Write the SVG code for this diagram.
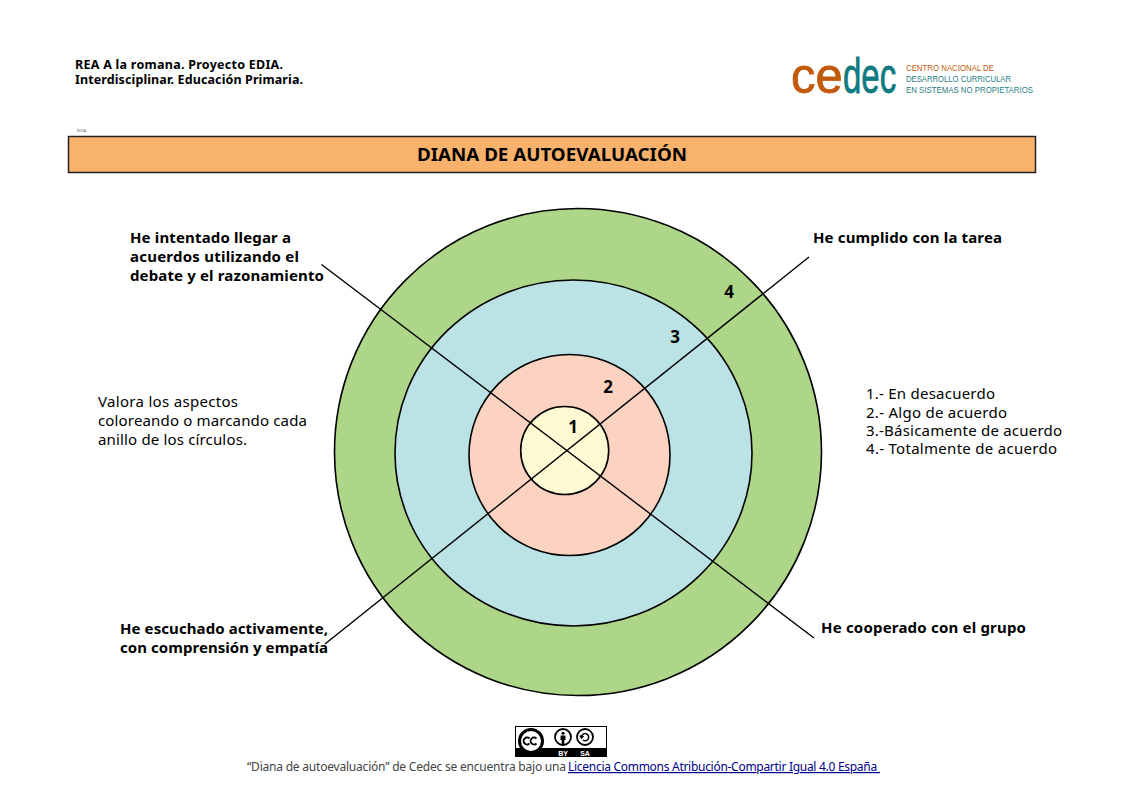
<svg xmlns="http://www.w3.org/2000/svg" width="1123" height="794" viewBox="0 0 1123 794">
<style>
text{font-family:"Noto Sans","Open Sans","Liberation Sans",sans-serif;fill:#000}
.b{font-weight:700;font-size:15px}
.r{font-size:15px}
.h{font-weight:700;font-size:12.5px}
.n{font-weight:700;font-size:17px}
.c{stroke:#000;stroke-width:1.6}
.l{stroke:#000;stroke-width:1.4;fill:none}
.lg{font-family:"Liberation Sans",sans-serif;font-size:8.500px}
</style>
<rect width="1123" height="794" fill="#fff"/>
<g id="header">
<text class="h" x="75" y="69" textLength="208">REA A la romana. Proyecto EDIA.</text>
<text class="h" x="75" y="84" textLength="228">Interdisciplinar. Educación Primaria.</text>
<text x="77" y="132" font-size="4" style="fill:#666">EDIA</text>
</g>
<g id="logo">
<text transform="translate(791,93) scale(.98,1)" font-size="50" style="font-family:'Liberation Sans',sans-serif;fill:#c25a0e;stroke:#c25a0e;stroke-width:.8">ce</text>
<text transform="translate(843,93) scale(.66,1)" font-size="50" style="font-family:'Liberation Sans',sans-serif;fill:#0f7b80;stroke:#0f7b80;stroke-width:.8">dec</text>
<text class="lg" x="906" y="71" style="fill:#c25a0e;font-family:'Liberation Sans',sans-serif" textLength="88" lengthAdjust="spacingAndGlyphs">CENTRO NACIONAL DE</text>
<text class="lg" x="906" y="82" style="fill:#1f7d82;font-family:'Liberation Sans',sans-serif" textLength="105" lengthAdjust="spacingAndGlyphs">DESARROLLO CURRICULAR</text>
<text class="lg" x="906" y="93" style="fill:#1f7d82;font-family:'Liberation Sans',sans-serif" textLength="127" lengthAdjust="spacingAndGlyphs">EN SISTEMAS NO PROPIETARIOS</text>
</g>
<g id="title">
<rect x="68.500" y="136.500" width="967" height="36" fill="#f8b26b" stroke="#222" stroke-width="1.500"/>
<text x="552" y="160.500" text-anchor="middle" font-size="17" font-weight="700" textLength="270" lengthAdjust="spacingAndGlyphs">DIANA DE AUTOEVALUACIÓN</text>
</g>
<g id="rings">
<circle class="c" cx="578" cy="452" r="243.500" fill="#aed688"/>
<ellipse class="c" cx="573.500" cy="453" rx="178.500" ry="173" fill="#bbe3e5"/>
<circle class="c" cx="569.500" cy="455" r="100.500" fill="#fcd2c1"/>
<circle class="c" cx="564.700" cy="450.500" r="44" fill="#fefbd4"/>
</g>
<g id="connectors">
<line class="l" x1="321.500" y1="264.500" x2="814" y2="638"/>
<line class="l" x1="809" y1="257" x2="325" y2="644"/>
</g>
<g id="ring-numbers">
<text class="n" x="573" y="433" text-anchor="middle">1</text>
<text class="n" x="608" y="393" text-anchor="middle">2</text>
<text class="n" x="675" y="343" text-anchor="middle">3</text>
<text class="n" x="729" y="298" text-anchor="middle">4</text>
</g>
<g id="label-acuerdos">
<text class="b" x="130" y="243" textLength="161">He intentado llegar a</text>
<text class="b" x="130" y="262" textLength="169">acuerdos utilizando el</text>
<text class="b" x="130" y="281" textLength="194">debate y el razonamiento</text>
</g>
<g id="label-tarea"><text class="b" x="813" y="243" textLength="189">He cumplido con la tarea</text></g>
<g id="label-grupo"><text class="b" x="821" y="633" textLength="205">He cooperado con el grupo</text></g>
<g id="label-escuchado">
<text class="b" x="120" y="634" textLength="208">He escuchado activamente,</text>
<text class="b" x="120" y="653" textLength="208">con comprensión y empatía</text>
</g>
<g id="instructions">
<text class="r" x="98" y="407" textLength="140">Valora los aspectos</text>
<text class="r" x="98" y="426" textLength="209">coloreando o marcando cada</text>
<text class="r" x="98" y="445" textLength="149">anillo de los círculos.</text>
</g>
<g id="legend">
<text class="r" x="866" y="399" textLength="129">1.- En desacuerdo</text>
<text class="r" x="866" y="418" textLength="141">2.- Algo de acuerdo</text>
<text class="r" x="866" y="436" textLength="196">3.-Básicamente de acuerdo</text>
<text class="r" x="866" y="454" textLength="191">4.- Totalmente de acuerdo</text>
</g>
<g id="cc-badge">
<rect x="515.500" y="726.500" width="91" height="30" fill="#fff" stroke="#000"/>
<rect x="516" y="748" width="90" height="9" fill="#000"/>
<circle cx="531" cy="741" r="11.500" fill="#fff" stroke="#000" stroke-width="3"/>
<path d="M529.500 738.500a3.500 3.500 0 1 0 0 5M536.500 738.500a3.500 3.500 0 1 0 0 5" fill="none" stroke="#000" stroke-width="1.800"/>
<circle cx="563" cy="737" r="8" fill="#fff" stroke="#000" stroke-width="1.800"/>
<circle cx="563" cy="733.300" r="1.500" fill="#000"/>
<path d="M560.500 735.500h5v4.500h-1.200v4h-2.600v-4h-1.200z" fill="#000"/>
<circle cx="585" cy="737" r="8" fill="#fff" stroke="#000" stroke-width="1.800"/>
<path d="M581.500 737a3.600 3.600 0 1 1 1.400 3M580 735.500l1.500 2.500 2-2" fill="none" stroke="#000" stroke-width="1.500"/>
<text x="563" y="755.500" text-anchor="middle" font-size="7" font-weight="700" style="fill:#fff;font-family:'Liberation Sans',sans-serif">BY</text>
<text x="585" y="755.500" text-anchor="middle" font-size="7" font-weight="700" style="fill:#fff;font-family:'Liberation Sans',sans-serif">SA</text>
</g>
<g id="footer">
<text x="247" y="771" font-size="12" style="fill:#444" textLength="319">“Diana de autoevaluación” de Cedec se encuentra bajo una</text>
<text x="568" y="771" font-size="12" style="fill:#00008b" text-decoration="underline" textLength="312" xml:space="preserve">Licencia Commons Atribución-Compartir Igual 4.0 España </text>
</g>
</svg>
